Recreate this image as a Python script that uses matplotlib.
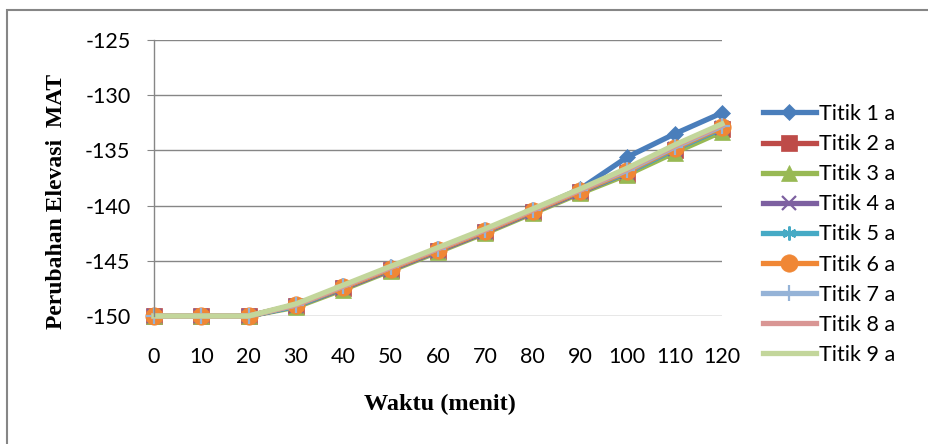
import matplotlib.pyplot as plt
from matplotlib.patches import Rectangle

waktu = ['0', '10', '20', '30', '40', '50', '60', '70', '80', '90', '100', '110', '120']

titik_1 = [-150, -150, -150, -149.0, -147.3, -145.6, -143.9, -142.2, -140.4, -138.5, -135.6, -133.5, -131.6]
titik_2 = [-150, -150, -150, -149.1, -147.5, -145.8, -144.1, -142.4, -140.6, -138.8, -137.1, -135.0, -133.1]
titik_3 = [-150, -150, -150, -149.2, -147.6, -145.9, -144.2, -142.5, -140.7, -138.9, -137.2, -135.2, -133.3]
titik_4 = [-150, -150, -150, -149.1, -147.5, -145.8, -144.1, -142.4, -140.6, -138.8, -137.0, -134.9, -133.0]
titik_5 = [-150, -150, -150, -149.1, -147.4, -145.7, -144.0, -142.3, -140.5, -138.7, -137.0, -134.9, -133.0]
titik_6 = [-150, -150, -150, -149.0, -147.4, -145.7, -144.0, -142.3, -140.5, -138.7, -136.9, -134.8, -132.9]
titik_7 = [-150, -150, -150, -149.0, -147.3, -145.6, -143.9, -142.2, -140.4, -138.6, -136.8, -134.7, -132.8]
titik_8 = [-150, -150, -150, -149.0, -147.3, -145.6, -143.9, -142.2, -140.4, -138.6, -136.7, -134.6, -132.7]
titik_9 = [-150, -150, -150, -148.9, -147.2, -145.5, -143.8, -142.1, -140.3, -138.5, -136.6, -134.5, -132.6]

labels = ['Titik 1 a', 'Titik 2 a', 'Titik 3 a', 'Titik 4 a', 'Titik 5 a',
          'Titik 6 a', 'Titik 7 a', 'Titik 8 a', 'Titik 9 a']
series = [titik_1, titik_2, titik_3, titik_4, titik_5, titik_6, titik_7, titik_8, titik_9]

colors = ['#4A7EBB', '#BE4B48', '#98B954', '#7D60A0', '#46AAC5',
          '#F08735', '#95B3D7', '#D99694', '#C3D69B']
markers = ['D', 's', '^', 'x', (6, 2, 0), 'o', '+', None, None]
msizes = [8.5, 11, 11.5, 10, 10, 12.5, 11, 0, 0]

plt.rcParams['font.family'] = ['Lato', 'DejaVu Sans']
plt.rcParams['axes.unicode_minus'] = False

fig = plt.figure(figsize=(9.29, 4.44), dpi=100)
ax = fig.add_axes([154 / 929, 1 - 316 / 444, (722 - 154) / 929, (316 - 40) / 444])

x = list(range(len(waktu)))
for vals, lab, c, m, ms in zip(series, labels, colors, markers, msizes):
    thin = m in ('x', '+', (6, 2, 0))
    ax.plot(x, vals, color=c, lw=3.8, marker=m, markersize=ms,
            markeredgewidth=1.6 if thin else 0.5,
            markeredgecolor=c, label=lab, clip_on=False, solid_joinstyle='round')

ax.set_xlim(0, 12)
ax.set_ylim(-150, -125)
ax.set_yticks(range(-150, -124, 5))
ax.set_xticks(x)
ax.set_xticklabels(waktu)
ax.tick_params(axis='y', direction='out', length=5, color='#868686', labelsize=15.5, pad=12)
ax.tick_params(axis='x', length=0, labelsize=15.5, pad=22)
ax.grid(axis='y', color='#868686', lw=1)
ax.set_axisbelow(True)
for s in ['top', 'right', 'bottom']:
    ax.spines[s].set_visible(False)
ax.spines['left'].set_color('#868686')
ax.spines['left'].set_linewidth(1)

fig.text(57 / 929, 1 - 201 / 444, 'Perubahan Elevasi  MAT', rotation=90,
         ha='center', va='center', fontsize=17, fontweight='bold',
         family='Liberation Serif')
fig.text(440 / 929, 1 - 404 / 444, 'Waktu (menit)', ha='center', va='center',
         fontsize=17.5, fontweight='bold', family='Liberation Serif')

fig.legend(loc='upper left', bbox_to_anchor=(763 / 929, 1 - 104 / 444),
           frameon=False, fontsize=15.5, handlelength=2.45, labelspacing=0.47,
           handletextpad=0.15, borderaxespad=0, borderpad=0)

# outer chart border
fig.patches.append(Rectangle((7 / 929, -0.2), 1.2, 1 - 10 / 444 + 0.2,
                             transform=fig.transFigure, fill=False,
                             edgecolor='#868686', lw=1.5))

fig.savefig('out.png', dpi=100)
